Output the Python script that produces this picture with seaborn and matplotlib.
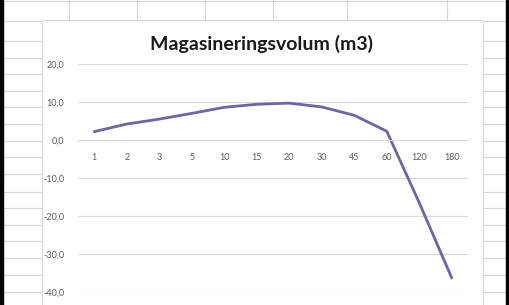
import matplotlib
matplotlib.use('Agg')
import matplotlib.pyplot as plt
from matplotlib.lines import Line2D
from matplotlib.patches import Rectangle
import pandas as pd
import seaborn as sns

# Data
minutes = ['1', '2', '3', '5', '10', '15', '20', '30', '45', '60', '120', '180']
volume = [2.2, 4.2, 5.5, 7.0, 8.6, 9.4, 9.7, 8.7, 6.5, 2.3, -16.5, -36.3]
y_ticks = [20, 10, 0, -10, -20, -30, -40]

df = pd.DataFrame({'minutt': minutes, 'volum': volume})

sns.set_style('white')
plt.rcParams['font.family'] = ['Lato', 'DejaVu Sans']

W, H = 509, 305
fig = plt.figure(figsize=(W / 100, H / 100), dpi=100)
fig.patch.set_facecolor('white')


def px(x, y):
    return x / W, 1 - y / H


# spreadsheet cells behind the chart
cell = '#d6d6d6'
for y in [1, 21, 41, 58, 74, 91, 107, 124, 141, 157, 174, 192, 208, 225, 241, 258, 275, 292]:
    fig.add_artist(Line2D([0, 1], [1 - y / H] * 2, color=cell, lw=0.8, zorder=-5))
for x in [69, 137, 205, 273, 347, 447]:
    fig.add_artist(Line2D([x / W] * 2, [1 - 21 / H, 1], color=cell, lw=0.8, zorder=-5))

# chart area
fig.add_artist(Rectangle(px(42, 310), (483 - 42) / W, 290 / H, facecolor='white',
                         edgecolor='#d9d9d9', lw=0.8, zorder=-4))
# black window edges
fig.add_artist(Rectangle((0, 0), 2.5 / W, 1, color='black', zorder=-3))
fig.add_artist(Rectangle((1 - 3 / W, 0), 3 / W, 1, color='black', zorder=-3))

ax = fig.add_axes([78 / W, 13 / H, 390 / W, 228 / H])
ax.set_facecolor('none')

sns.lineplot(data=df, x='minutt', y='volum', sort=False, color='#7262a8', lw=2.0, ax=ax)

ax.set_xlim(-0.5, len(minutes) - 0.5)
ax.set_ylim(-40, 20)
ax.set_yticks(y_ticks)
ax.set_yticklabels([f'{v:.1f}'.replace('.', ',') for v in y_ticks])
ax.yaxis.grid(True, color='#d9d9d9', lw=0.8)
ax.set_axisbelow(True)
for s in ['top', 'right', 'left']:
    ax.spines[s].set_visible(False)
ax.spines['bottom'].set_position(('data', 0))
ax.spines['bottom'].set_color('#d9d9d9')
ax.spines['bottom'].set_linewidth(0.8)
ax.tick_params(axis='both', length=0, labelsize=6.5, labelcolor='#595959')
ax.tick_params(axis='x', pad=9)
ax.tick_params(axis='y', pad=10)
ax.set_xlabel('')
ax.set_ylabel('')

fig.text(262 / W, 1 - 44 / H, 'Magasineringsvolum (m3)', ha='center', va='center',
         fontsize=14, fontweight='bold', color='#1a1a1a')

fig.savefig('out.png', dpi=100)
